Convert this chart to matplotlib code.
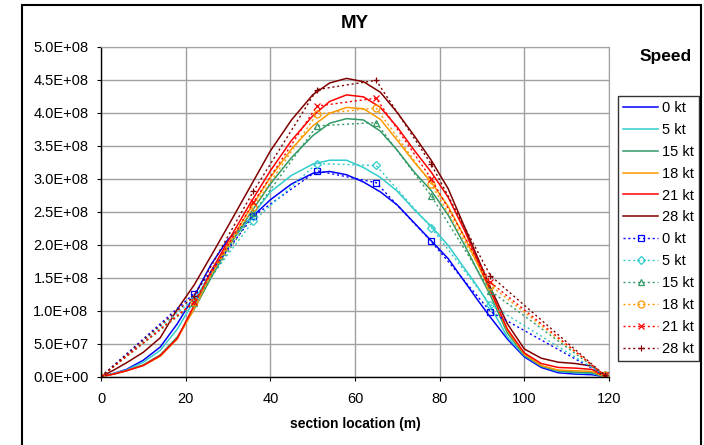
import numpy as np
import matplotlib
matplotlib.use("Agg")
import matplotlib.pyplot as plt
from matplotlib.patches import Rectangle
from matplotlib.ticker import FuncFormatter

plt.rcParams['font.family'] = ['Liberation Sans', 'DejaVu Sans']

# Smooth (calculated) curves, values in 1E+08
x_calc = [0, 3, 6, 10, 14, 18, 22, 26, 30, 35, 40, 45, 50, 54, 58, 62, 66,
          70, 74, 78, 82, 86, 89, 92, 96, 100, 104, 108, 112, 116, 119]
calc_0kt = [0, 0.05, 0.11, 0.25, 0.45, 0.8, 1.22, 1.7, 2.08, 2.38, 2.68, 2.92, 3.08,
            3.11, 3.06, 2.95, 2.8, 2.6, 2.33, 2.06, 1.79, 1.43, 1.16, 0.9, 0.57,
            0.3, 0.14, 0.06, 0.04, 0.03, 0]
calc_5kt = [0, 0.05, 0.1, 0.22, 0.4, 0.72, 1.15, 1.58, 2.0, 2.38, 2.8, 3.05, 3.22,
            3.28, 3.28, 3.17, 3.02, 2.81, 2.53, 2.28, 1.99, 1.63, 1.36, 1.06, 0.6,
            0.32, 0.16, 0.08, 0.06, 0.05, 0]
calc_15kt = [0, 0.04, 0.09, 0.18, 0.33, 0.6, 1.02, 1.5, 1.95, 2.45, 2.92, 3.32, 3.65,
             3.84, 3.91, 3.89, 3.72, 3.43, 3.1, 2.82, 2.45, 1.98, 1.6, 1.23, 0.66,
             0.33, 0.16, 0.09, 0.07, 0.06, 0]
calc_18kt = [0, 0.04, 0.09, 0.17, 0.31, 0.57, 1.03, 1.55, 2.0, 2.52, 3.02, 3.45, 3.8,
             3.99, 4.08, 4.06, 3.9, 3.58, 3.25, 2.95, 2.58, 2.1, 1.7, 1.3, 0.7,
             0.34, 0.17, 0.1, 0.09, 0.08, 0]
calc_21kt = [0, 0.04, 0.09, 0.17, 0.32, 0.58, 1.08, 1.6, 2.05, 2.6, 3.12, 3.58, 3.95,
             4.17, 4.27, 4.24, 4.08, 3.78, 3.43, 3.1, 2.72, 2.2, 1.75, 1.3, 0.72,
             0.36, 0.2, 0.14, 0.13, 0.11, 0]
calc_28kt = [0, 0.1, 0.21, 0.37, 0.59, 1.02, 1.39, 1.83, 2.28, 2.85, 3.42, 3.89, 4.27,
             4.45, 4.52, 4.47, 4.31, 4.0, 3.65, 3.28, 2.85, 2.25, 1.8, 1.35, 0.8,
             0.42, 0.28, 0.22, 0.2, 0.16, 0]

# Section values (markers), in 1E+08
x_sect = [0, 22, 36, 51, 65, 78, 92, 119]
sect_0kt = [0, 1.26, 2.43, 3.12, 2.94, 2.05, 0.985, 0.02]
sect_5kt = [0, 1.18, 2.36, 3.23, 3.20, 2.26, 1.09, 0.02]
sect_15kt = [0, 1.11, 2.48, 3.80, 3.85, 2.74, 1.30, 0.02]
sect_18kt = [0, 1.13, 2.57, 3.98, 4.07, 2.92, 1.38, 0.02]
sect_21kt = [0, 1.13, 2.64, 4.10, 4.22, 3.00, 1.43, 0.02]
sect_28kt = [0, 1.22, 2.81, 4.35, 4.49, 3.22, 1.53, 0.02]

speeds = ['0 kt', '5 kt', '15 kt', '18 kt', '21 kt', '28 kt']
colors = ['#0000FF', '#33CCCC', '#339966', '#FF9900', '#FF0000', '#800000']
markers = ['s', 'D', '^', 'o', 'x', '+']
calc = [calc_0kt, calc_5kt, calc_15kt, calc_18kt, calc_21kt, calc_28kt]
sect = [sect_0kt, sect_5kt, sect_15kt, sect_18kt, sect_21kt, sect_28kt]

fig = plt.figure(figsize=(7.04, 4.45), dpi=100)
ax = fig.add_axes([101 / 704, 1 - 376.7 / 445, 508 / 704, 330 / 445])

for vals, c, lab in zip(calc, colors, speeds):
    ax.plot(x_calc, np.array(vals) * 1e8, color=c, lw=1.1, label=lab)

for vals, c, m, lab in zip(sect, colors, markers, speeds):
    ms = 4 if m in ('s', 'D') else 5
    ax.plot(x_sect, np.array(vals) * 1e8, color=c, lw=1.0, ls=(0, (1.5, 2)),
            marker=m, ms=ms, mfc='none', mec=c, mew=0.9, label=lab)

ax.set_xlim(0, 120)
ax.set_ylim(0, 5e8)
ax.set_xticks(range(0, 121, 20))
ax.set_yticks(np.arange(0, 5.01e8, 0.5e8))
ax.yaxis.set_major_formatter(FuncFormatter(lambda v, p: '{:.1E}'.format(v)))
ax.grid(True, color='#a0a0a0', lw=1.0)
ax.set_axisbelow(True)
ax.tick_params(labelsize=10.5, length=3, direction='out')
ax.tick_params(axis='y', pad=6)
ax.tick_params(axis='x', pad=8)
for s in ['top', 'right']:
    ax.spines[s].set_color('#a0a0a0')
for s in ['left', 'bottom']:
    ax.spines[s].set_color('black')
    ax.spines[s].set_linewidth(1.0)

ax.set_xlabel('section location (m)', fontsize=10, fontweight='bold', labelpad=8)
fig.text(355 / 704, 1 - 23 / 445, 'MY', fontsize=13.5, fontweight='bold',
         ha='center', va='center')
fig.text(666 / 704, 1 - 57 / 445, 'Speed', fontsize=12.5, fontweight='bold',
         ha='center', va='center')

leg = fig.legend(loc='upper left', bbox_to_anchor=(618 / 704, 1 - 96 / 445),
                 fontsize=10.5, frameon=True, fancybox=False, edgecolor='black',
                 handlelength=2.4, handletextpad=0.3, labelspacing=0.54,
                 borderaxespad=0, borderpad=0.35)
leg.get_frame().set_linewidth(1.0)

# chart area border
fig.patches.append(Rectangle((22 / 704, -0.02), (701 - 22) / 704, 1 - 5 / 445 + 0.02,
                             transform=fig.transFigure, fill=False,
                             edgecolor='black', lw=1.5))

fig.savefig('out.png', dpi=100)
